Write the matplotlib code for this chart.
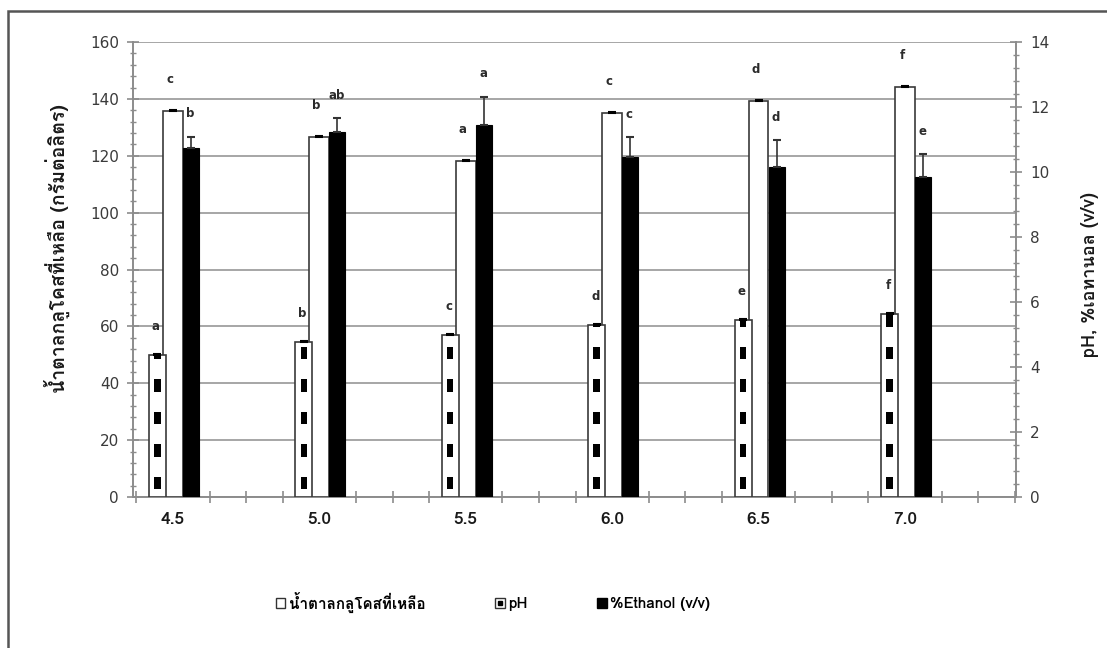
import matplotlib
matplotlib.use("Agg")
import matplotlib.pyplot as plt
import numpy as np
from matplotlib import font_manager
from matplotlib.ft2font import FT2Font
from matplotlib.patches import Rectangle, Patch
from matplotlib.lines import Line2D
from matplotlib.legend_handler import HandlerTuple
from matplotlib.ticker import MultipleLocator, FixedLocator


def find_thai_family():
    seen = set()
    for f in font_manager.fontManager.ttflist:
        if f.fname in seen:
            continue
        seen.add(f.fname)
        try:
            if 0x0E19 in FT2Font(f.fname).get_charmap():
                return f.name
        except Exception:
            pass
    return None


thai = find_thai_family()
families = ([thai] if thai else []) + ["DejaVu Sans"]
plt.rcParams["font.family"] = families

# ---- data ----
ph_levels = ["4.5", "5.0", "5.5", "6.0", "6.5", "7.0"]
glucose = [135.8, 126.7, 118.3, 134.9, 139.3, 144.1]      # g/L, left axis
glucose_err = [0.3, 0.3, 0.3, 0.5, 0.3, 0.5]
final_ph = [4.36, 4.76, 4.98, 5.28, 5.44, 5.62]           # right axis
final_ph_err = [0.03, 0.03, 0.03, 0.04, 0.03, 0.04]
ethanol = [10.75, 11.22, 11.45, 10.47, 10.16, 9.84]       # %v/v, right axis
ethanol_err = [0.34, 0.43, 0.87, 0.60, 0.82, 0.71]
glucose_letters = ["c", "b", "a", "c", "d", "f"]
ph_letters = ["a", "b", "c", "d", "e", "f"]
ethanol_letters = ["b", "ab", "a", "c", "d", "e"]

legend_labels = ["น้ำตาลกลูโคสที่เหลือ", "pH", "%Ethanol (v/v)"]
left_label = "น้ำตาลกลูโคสที่เหลือ (กรัมต่อลิตร)"
right_label = "pH, %เอทานอล (v/v)"

# ---- layout ----
W, H = 1107, 648
fig = plt.figure(figsize=(W / 100, H / 100), dpi=100)
ax = fig.add_axes([133 / W, 1 - 497 / H, (1016 - 133) / W, (497 - 42) / H])
ax2 = ax.twinx()

x = np.arange(len(ph_levels))
grid_c = "#a6a6a6"
spine_c = "#8c8c8c"
txt_c = "#3a3a3a"

# glucose bars (left axis)
ax.bar(x, glucose, width=0.135, color="white", edgecolor="#3a3a3a",
       linewidth=1.2, zorder=3)
ax.errorbar(x, glucose, yerr=[np.zeros(len(x)), glucose_err], fmt="none",
            ecolor="black", elinewidth=1, capsize=3, capthick=1.5, zorder=4)

# pH bars and ethanol bars (right axis)
ph_off, et_off = -0.106, 0.123
ph_bars = ax2.bar(x + ph_off, final_ph, width=0.115, color="white",
                  edgecolor="#3a3a3a", linewidth=1.2, zorder=3)
# dotted fill of the pH bars: one short black dash per pH unit, clipped to each bar
for xi, bar in zip(x, ph_bars):
    for k in range(int(np.ceil(max(final_ph))) + 1):
        dash = Rectangle((xi + ph_off - 0.022, k + 0.24), 0.044, 0.38,
                         facecolor="black", edgecolor="none", zorder=4)
        ax2.add_patch(dash)
        dash.set_clip_path(bar)
ax2.errorbar(x + ph_off, final_ph, yerr=[np.zeros(len(x)), final_ph_err],
             fmt="none", ecolor="black", elinewidth=1, capsize=3, capthick=1.5,
             zorder=5)

ax2.bar(x + et_off, ethanol, width=0.108, color="black", edgecolor="black",
        linewidth=0.8, zorder=3)
ax2.errorbar(x + et_off, ethanol, yerr=[np.zeros(len(x)), ethanol_err],
             fmt="none", ecolor="#333333", elinewidth=1.2, capsize=3,
             capthick=1.5, zorder=4)

# significance letters
lfont = dict(fontsize=8.5, fontweight="bold", color="#2b2b2b", ha="center",
             va="bottom", family=["DejaVu Sans"])
for xi, v, e, s in zip(x, glucose, glucose_err, glucose_letters):
    ax.text(xi - 0.02, v + e + 8.5, s, zorder=6, **lfont)
for xi, v, e, s in zip(x, final_ph, final_ph_err, ph_letters):
    ax2.text(xi + ph_off - 0.01, v + e + 0.65, s, zorder=6, **lfont)
for xi, v, e, s in zip(x, ethanol, ethanol_err, ethanol_letters):
    ax2.text(xi + et_off - 0.005, v + e + 0.5, s, zorder=6, **lfont)

# axes limits and ticks
ax.set_xlim(-0.273, len(x) - 1 + 0.758)
ax.set_ylim(0, 160)
ax2.set_ylim(0, 14)
ax.yaxis.set_major_locator(MultipleLocator(20))
ax.yaxis.set_minor_locator(MultipleLocator(4))
ax2.yaxis.set_major_locator(MultipleLocator(2))
ax2.yaxis.set_minor_locator(MultipleLocator(0.4))
ax.set_xticks(x)
ax.set_xticklabels(ph_levels)
ax.xaxis.set_minor_locator(FixedLocator(np.arange(-0.25, len(x) - 1 + 0.76, 0.25)))
ax.grid(axis="y", color=grid_c, linewidth=1.4, zorder=0)
ax.set_axisbelow(True)

for a in (ax, ax2):
    for sp in a.spines.values():
        sp.set_visible(False)
ax.spines["left"].set_visible(True)
ax.spines["bottom"].set_visible(True)
ax2.spines["right"].set_visible(True)
for sp in (ax.spines["left"], ax.spines["bottom"], ax2.spines["right"]):
    sp.set_color(spine_c)
    sp.set_linewidth(1.4)

ax.tick_params(axis="y", which="major", direction="inout", length=8,
               color=spine_c, width=1.2, labelsize=11, labelcolor=txt_c, pad=6)
ax.tick_params(axis="y", which="minor", direction="inout", length=5,
               color=spine_c, width=1)
ax2.tick_params(axis="y", which="major", direction="inout", length=8,
                color=spine_c, width=1.2, labelsize=11, labelcolor=txt_c, pad=6)
ax2.tick_params(axis="y", which="minor", direction="inout", length=5,
                color=spine_c, width=1)
ax.tick_params(axis="x", which="major", length=0, labelsize=12.5,
               labelcolor="#1a1a1a", pad=11)
ax.tick_params(axis="x", which="minor", direction="inout", length=8,
               color=spine_c, width=1.2)
for lab in ax.get_xticklabels():
    lab.set_fontweight("bold")
for a in (ax, ax2):
    for lab in a.get_yticklabels():
        lab.set_family(["DejaVu Sans"])

ax.set_ylabel(left_label, fontsize=14, fontweight="bold", color="#1a1a1a")
ax.yaxis.set_label_coords(-0.071, 0.545)
ax2.set_ylabel(right_label, fontsize=13, fontweight="bold", color="#1a1a1a",
               rotation=90)
ax2.yaxis.set_label_coords(1.074, 0.49)

# legend
h_glu = Patch(facecolor="white", edgecolor="#333333", linewidth=1.0)
h_ph = (Patch(facecolor="white", edgecolor="#333333", linewidth=1.0),
        Line2D([], [], marker="s", color="black", markersize=3, linestyle="none"))
h_et = Patch(facecolor="black", edgecolor="black")
fig.legend([h_glu, h_ph, h_et], legend_labels, loc="center",
           bbox_to_anchor=(493 / W, 1 - 602 / H), ncol=3, frameon=False,
           handler_map={tuple: HandlerTuple(ndivide=1, pad=0)},
           handlelength=0.6, handleheight=0.6, handletextpad=0.2,
           columnspacing=4.6, prop=dict(size=11, weight="bold"))

# outer frame
fig.patches.append(Rectangle((8 / W, -0.05), 1.2, 1 - 11 / H + 0.05,
                             transform=fig.transFigure, fill=False,
                             edgecolor="#555555", linewidth=1.8))

fig.savefig("out.png", dpi=100)
